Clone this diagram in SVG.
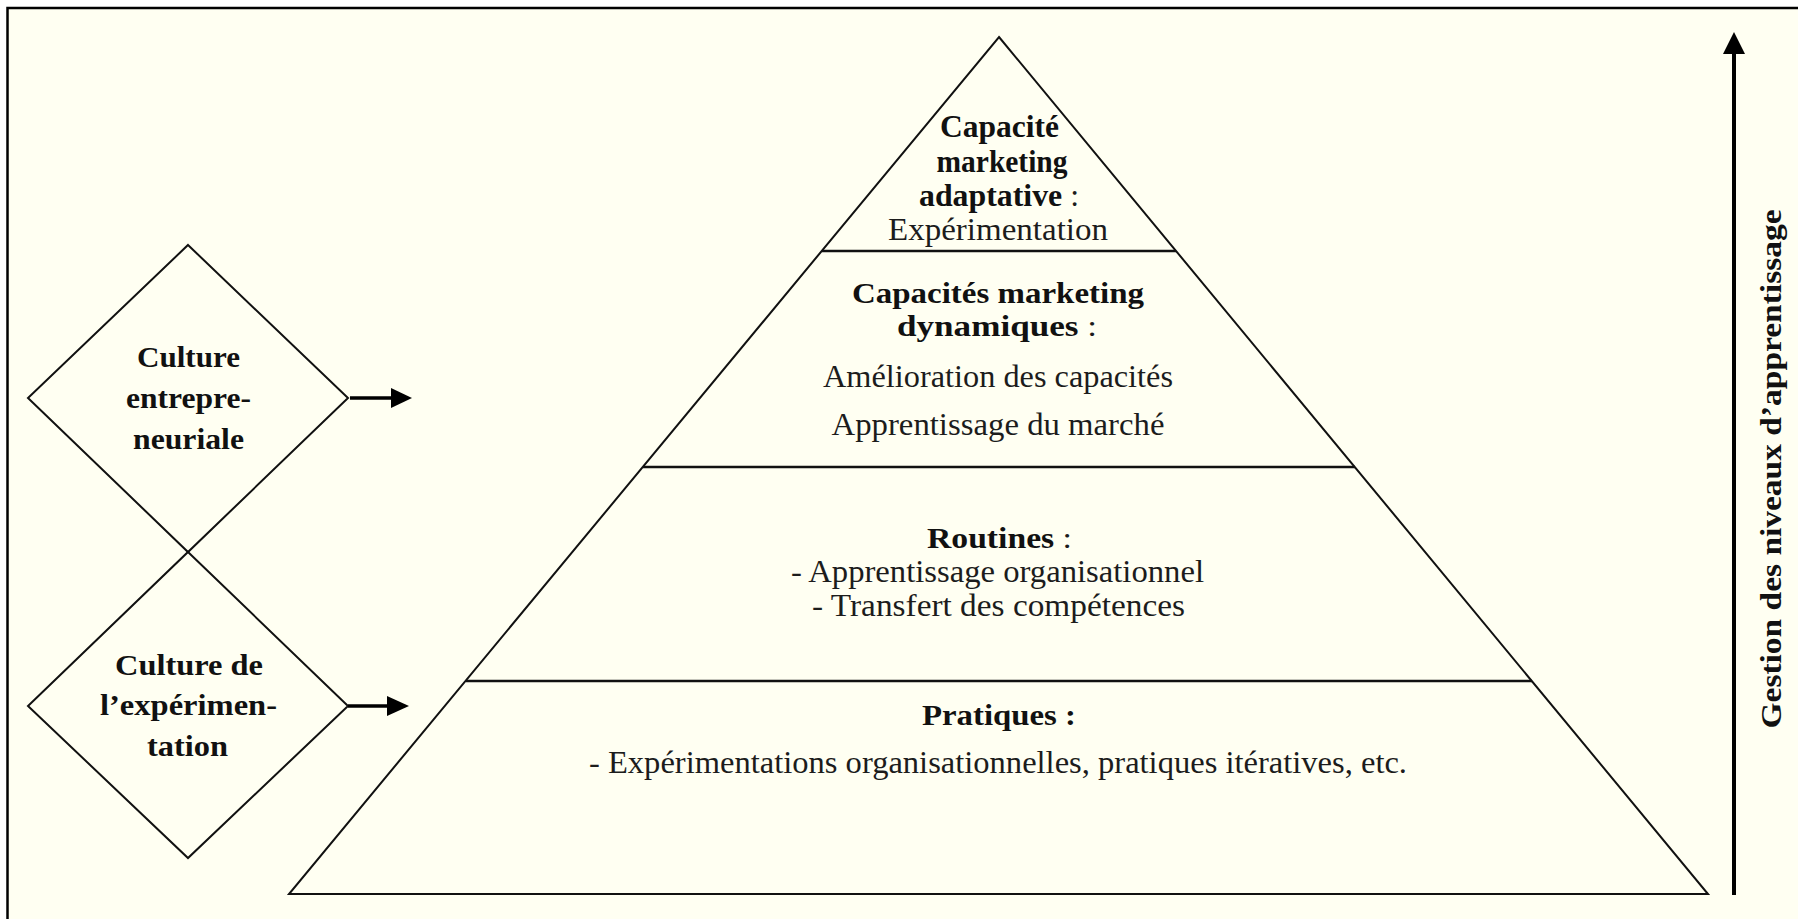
<svg xmlns="http://www.w3.org/2000/svg" width="1798" height="919" viewBox="0 0 1798 919">
<style>
.b{font-family:"Liberation Serif","Times New Roman",serif;font-weight:bold;fill:#111;}
.r{font-family:"Liberation Serif","Times New Roman",serif;font-weight:normal;fill:#1c1c1c;}
.shape{fill:none;stroke:#111;stroke-width:2;stroke-linejoin:miter;}
.sep{stroke:#111;stroke-width:2.5;}
.conn{stroke:#000;fill:none;}
.head{fill:#000;stroke:none;}
</style>
<rect x="0" y="0" width="1798" height="919" fill="#ffffff"/>
<rect x="7.5" y="8" width="1800" height="920" fill="#fffff2" stroke="#000" stroke-width="2.5"/>

<g id="pyramid">
<polygon class="shape" points="999,37 1708,894 289,894"/>
<line class="sep" x1="822" y1="251" x2="1176" y2="251"/>
<line class="sep" x1="643" y1="467" x2="1355" y2="467"/>
<line class="sep" x1="466" y1="681" x2="1532" y2="681"/>
</g>

<g id="level-adaptative">
<text class="b" x="999.5" y="137" font-size="31" text-anchor="middle" textLength="119" lengthAdjust="spacingAndGlyphs">Capacité</text>
<text class="b" x="1002" y="172" font-size="31" text-anchor="middle" textLength="131" lengthAdjust="spacingAndGlyphs">marketing</text>
<text class="b" x="999" y="206" font-size="31" text-anchor="middle" textLength="160" lengthAdjust="spacingAndGlyphs">adaptative <tspan class="r">:</tspan></text>
<text class="r" x="998" y="240" font-size="31" text-anchor="middle" textLength="220" lengthAdjust="spacingAndGlyphs">Expérimentation</text>
</g>

<g id="level-dynamiques">
<text class="b" x="998" y="303" font-size="30" text-anchor="middle" textLength="292" lengthAdjust="spacingAndGlyphs">Capacités marketing</text>
<text class="b" x="997" y="336" font-size="30" text-anchor="middle" textLength="200" lengthAdjust="spacingAndGlyphs">dynamiques <tspan class="r">:</tspan></text>
<text class="r" x="998" y="387" font-size="31" text-anchor="middle" textLength="350" lengthAdjust="spacingAndGlyphs">Amélioration des capacités</text>
<text class="r" x="998" y="435" font-size="31" text-anchor="middle" textLength="333" lengthAdjust="spacingAndGlyphs">Apprentissage du marché</text>
</g>

<g id="level-routines">
<text class="b" x="999.5" y="548" font-size="30" text-anchor="middle" textLength="145" lengthAdjust="spacingAndGlyphs">Routines <tspan class="r">:</tspan></text>
<text class="r" x="997.5" y="582" font-size="31" text-anchor="middle" textLength="413" lengthAdjust="spacingAndGlyphs">- Apprentissage organisationnel</text>
<text class="r" x="998.5" y="616" font-size="31" text-anchor="middle" textLength="373" lengthAdjust="spacingAndGlyphs">- Transfert des compétences</text>
</g>

<g id="level-pratiques">
<text class="b" x="999" y="725" font-size="30" text-anchor="middle" textLength="154" lengthAdjust="spacingAndGlyphs">Pratiques :</text>
<text class="r" x="998" y="773" font-size="31" text-anchor="middle" textLength="818" lengthAdjust="spacingAndGlyphs">- Expérimentations organisationnelles, pratiques itératives, etc.</text>
</g>

<g id="culture-entrepreneuriale">
<polygon class="shape" points="188,245 348,398 188,552 28,398"/>
<text class="b" x="188.5" y="367" font-size="30" text-anchor="middle" textLength="103" lengthAdjust="spacingAndGlyphs">Culture</text>
<text class="b" x="188.5" y="408" font-size="30" text-anchor="middle" textLength="125" lengthAdjust="spacingAndGlyphs">entrepre-</text>
<text class="b" x="188.5" y="449" font-size="30" text-anchor="middle" textLength="111" lengthAdjust="spacingAndGlyphs">neuriale</text>
</g>

<g id="culture-experimentation">
<polygon class="shape" points="188,552 348,706 188,858 28,706"/>
<text class="b" x="189" y="675" font-size="30" text-anchor="middle" textLength="148" lengthAdjust="spacingAndGlyphs">Culture de</text>
<text class="b" x="188.5" y="715" font-size="30" text-anchor="middle" textLength="177" lengthAdjust="spacingAndGlyphs">l’expérimen-</text>
<text class="b" x="187.5" y="756" font-size="30" text-anchor="middle" textLength="81" lengthAdjust="spacingAndGlyphs">tation</text>
</g>

<g id="axis-label">
<text class="b" transform="translate(1781,469) rotate(-90)" x="0" y="0" font-size="30" text-anchor="middle" textLength="519" lengthAdjust="spacingAndGlyphs">Gestion des niveaux d’apprentissage</text>
</g>

<g id="connectors">
<line class="conn" x1="350" y1="398" x2="393" y2="398" stroke-width="3.5"/>
<polygon class="head" points="391,388 412,398 391,408"/>
<line class="conn" x1="348" y1="706" x2="389" y2="706" stroke-width="3.5"/>
<polygon class="head" points="387,696 409,706 387,716"/>
<line class="conn" x1="1734" y1="895" x2="1734" y2="50" stroke-width="4"/>
<polygon class="head" points="1734,32 1745,54 1723,54"/>
</g>
</svg>
